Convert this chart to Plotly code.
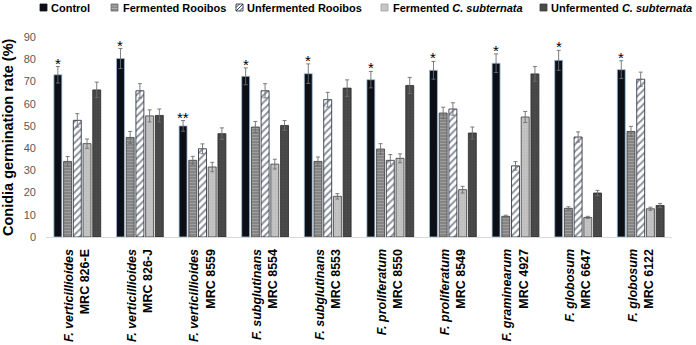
import plotly.graph_objects as go

# ---------------- data ----------------
species = ["verticillioides", "verticillioides", "verticillioides", "subglutinans", "subglutinans",
           "proliferatum", "proliferatum", "graminearum", "globosum", "globosum"]
strain_codes = ["MRC 826-E", "MRC 826-J", "MRC 8559", "MRC 8554", "MRC 8553",
                "MRC 8550", "MRC 8549", "MRC 4927", "MRC 6647", "MRC 6122"]

control = [73.0, 80.3, 50.0, 72.3, 73.5, 70.8, 75.0, 78.2, 79.5, 75.3]
ferm_rooibos = [34.0, 44.8, 34.5, 49.5, 34.0, 39.6, 55.8, 9.3, 12.9, 47.5]
unferm_rooibos = [52.5, 65.8, 39.7, 65.8, 61.8, 34.5, 57.6, 32.0, 45.0, 71.0]
ferm_csub = [42.0, 54.5, 31.5, 32.8, 18.3, 35.4, 21.3, 54.0, 8.8, 12.7]
unferm_csub = [66.2, 54.7, 46.5, 50.2, 67.0, 68.2, 46.8, 73.4, 19.8, 14.2]

control_err = [3.7, 4.5, 2.4, 3.8, 4.4, 3.7, 4.0, 4.2, 4.5, 4.0]
ferm_rooibos_err = [2.2, 2.7, 1.8, 2.5, 2.0, 2.4, 2.6, 0.5, 0.7, 2.3]
unferm_rooibos_err = [3.0, 3.2, 2.2, 3.2, 3.3, 2.6, 2.8, 1.9, 2.3, 3.2]
ferm_csub_err = [2.1, 2.7, 2.1, 2.2, 1.2, 2.0, 1.5, 2.5, 0.5, 0.7]
unferm_csub_err = [3.5, 2.9, 2.6, 2.2, 3.7, 3.6, 2.7, 3.3, 1.2, 0.9]

significance = ["*", "*", "**", "*", "*", "*", "*", "*", "*", "*"]

series_names = ["Control", "Fermented Rooibos", "Unfermented Rooibos",
                "Fermented <i>C. subternata</i>", "Unfermented <i>C. subternata</i>"]

y_ticks = [0, 10, 20, 30, 40, 50, 60, 70, 80, 90]

# ---------------- layout constants ----------------
W, H = 696, 345
ML, MR, MT, MB = 46, 24, 37, 108
PW, PH = W - ML - MR, H - MT - MB
FONT = "Liberation Sans, Arial, sans-serif"
BARGAP = 0.224


def px_x(px):
    return (px - ML) / PW


def px_y(py):
    return (H - MB - py) / PH


x_idx = list(range(len(strain_codes)))
tick_text = [f"<b><i>F. {s}</i></b><br><b>{c}</b>" for s, c in zip(species, strain_codes)]

styles = [
    dict(color="#0c0f16", line=dict(color="#9fbfdc", width=0.8)),
    dict(color="#8a8a8a", line=dict(color="#3a3a3a", width=0.8),
         pattern=dict(shape="-", fgcolor="#b8b8b8", bgcolor="#858585", size=3, solidity=0.35)),
    dict(color="white", line=dict(color="#1a2236", width=0.8),
         pattern=dict(shape="/", fgcolor="#1a2236", bgcolor="white", size=5, solidity=0.4)),
    dict(color="#c2c2c2", line=dict(color="#3a3a3a", width=0.8),
         pattern=dict(shape=".", fgcolor="#b0b0b0", bgcolor="#c4c4c4", size=3, solidity=0.3)),
    dict(color="#474747", line=dict(color="#2a2a2a", width=0.8),
         pattern=dict(shape=".", fgcolor="#3c3c3c", bgcolor="#4a4a4a", size=3, solidity=0.3)),
]

values = [control, ferm_rooibos, unferm_rooibos, ferm_csub, unferm_csub]
errors = [control_err, ferm_rooibos_err, unferm_rooibos_err, ferm_csub_err, unferm_csub_err]

fig = go.Figure()
for name, vals, errs, st in zip(series_names, values, errors, styles):
    fig.add_trace(go.Bar(
        x=x_idx, y=vals, name=name, marker=st,
        error_y=dict(type="data", array=errs, color="#6e6e6e", thickness=0.9, width=2),
        showlegend=False, hoverinfo="skip",
    ))

# significance stars above control bars
slot = (1 - BARGAP) / 5
for i, (v, e, s) in enumerate(zip(control, control_err, significance)):
    fig.add_annotation(x=i - 2 * slot, y=v + e, text=s, showarrow=False,
                       xanchor="center", yanchor="bottom", yshift=-7,
                       font=dict(family=FONT, size=15, color="black"))

# y-axis title
fig.add_annotation(xref="paper", yref="paper", x=px_x(8), y=0.5, text="<b>Conidia germination rate (%)</b>",
                   textangle=-90, showarrow=False, xanchor="center", yanchor="middle",
                   font=dict(family=FONT, size=14.5, color="black"))

# manual legend
leg_sym_x = [40, 111, 236, 381, 540]
leg_txt_x = [49, 121, 245, 391, 549]
sym_fill = ["#0c0f16", "#8a8a8a", "white", "#c6c6c6", "#4a4a4a"]
sym_line = ["#0c0f16", "#6a6a6a", "#1a2236", "#a0a0a0", "#3a3a3a"]
for k, name in enumerate(series_names):
    x0, x1 = leg_sym_x[k], leg_sym_x[k] + 7
    fig.add_shape(type="rect", xref="paper", yref="paper",
                  x0=px_x(x0), x1=px_x(x1), y0=px_y(11), y1=px_y(4),
                  fillcolor=sym_fill[k], line=dict(color=sym_line[k], width=0.8))
    if k == 1:
        for yy in (6, 8.5):
            fig.add_shape(type="line", xref="paper", yref="paper",
                          x0=px_x(x0 + 0.5), x1=px_x(x1 - 0.5), y0=px_y(yy), y1=px_y(yy),
                          line=dict(color="#b5b5b5", width=0.8))
    if k == 2:
        for (ax, ay, bx, by) in ((0, 7.5, 3.5, 4), (0, 11, 7, 4), (3.5, 11, 7, 7.5)):
            fig.add_shape(type="line", xref="paper", yref="paper",
                          x0=px_x(x0 + ax), x1=px_x(x0 + bx), y0=px_y(ay), y1=px_y(by),
                          line=dict(color="#1a2236", width=0.9))
    fig.add_annotation(xref="paper", yref="paper", x=px_x(leg_txt_x[k]), y=px_y(7.8),
                       text=f"<b>{name}</b>", showarrow=False, xanchor="left", yanchor="middle",
                       font=dict(family=FONT, size=11, color="black"))

fig.update_layout(
    width=W, height=H,
    margin=dict(l=ML, r=MR, t=MT, b=MB, pad=0, autoexpand=False),
    paper_bgcolor="white", plot_bgcolor="white",
    barmode="group", bargap=BARGAP, bargroupgap=0.18,
    font=dict(family=FONT, color="black"),
    showlegend=False, hovermode=False,
)
fig.update_xaxes(
    range=[-0.5, len(strain_codes) - 0.5], automargin=False,
    tickmode="array", tickvals=x_idx, ticktext=tick_text, tickangle=-90,
    tickfont=dict(family=FONT, size=12.5, color="black"),
    showline=True, linecolor="#d9d9d9", linewidth=1, showgrid=False, zeroline=False,
    ticks="", ticklabelstandoff=6,
)
fig.update_yaxes(
    range=[0, 90], tickmode="array", tickvals=y_ticks, automargin=False,
    tickfont=dict(family=FONT, size=11, color="#595959"),
    showline=False, showgrid=False, zeroline=False, ticks="", ticklabelstandoff=9,
)

fig.write_html("out.html", config={"displayModeBar": False},
               post_script="document.body.style.margin='0';document.body.style.padding='0';")
